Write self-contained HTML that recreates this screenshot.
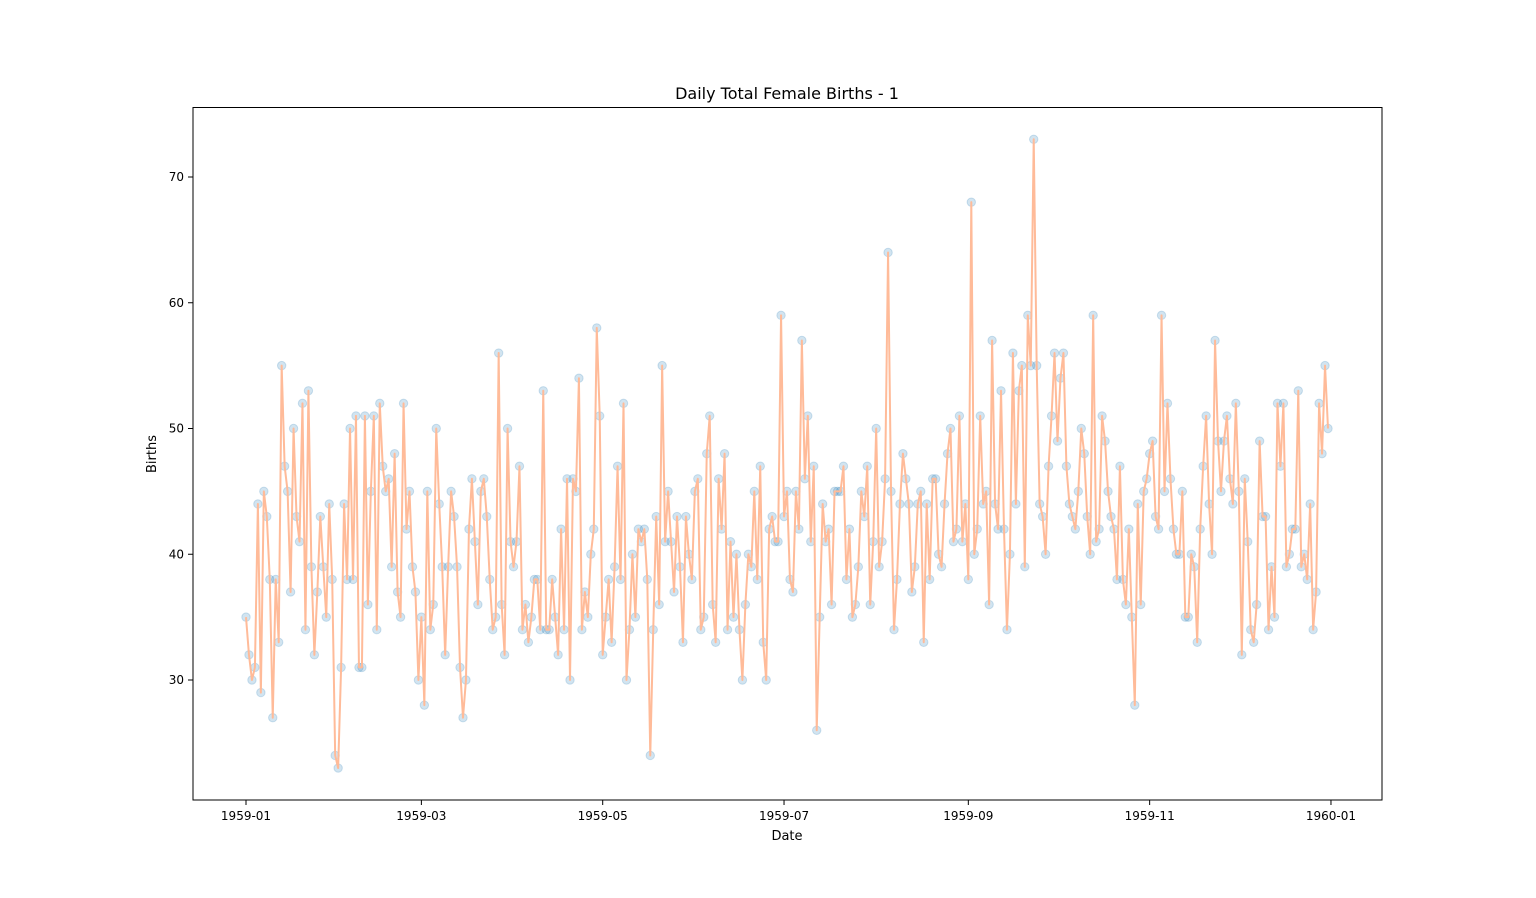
<!DOCTYPE html>
<html><head><meta charset="utf-8">
<style>
body{margin:0;background:#fff;}
svg{display:block;font-family:"DejaVu Sans","Liberation Sans",sans-serif;}
</style></head>
<body>
<svg id="chart" width="1536" height="898">
<text x="787" y="99" text-anchor="middle" font-size="16">Daily Total Female Births - 1</text>
<text x="787" y="840" text-anchor="middle" font-size="13">Date</text>
<text x="156" y="454" text-anchor="middle" font-size="13" transform="rotate(-90 156 454)">Births</text>
<g id="marks"></g>
<g id="axes"></g>
<rect x="193" y="107.5" width="1189" height="692.5" fill="none" stroke="#000" stroke-width="1"/>
</svg>
<script>
const births = [35,32,30,31,44,29,45,43,38,27,38,33,55,47,45,37,50,43,41,52,34,53,39,32,37,43,39,35,44,38,24,
23,31,44,38,50,38,51,31,31,51,36,45,51,34,52,47,45,46,39,48,37,35,52,42,45,39,37,30,
35,28,45,34,36,50,44,39,32,39,45,43,39,31,27,30,42,46,41,36,45,46,43,38,34,35,56,36,32,50,41,
39,41,47,34,36,33,35,38,38,34,53,34,34,38,35,32,42,34,46,30,46,45,54,34,37,35,40,42,58,51,
32,35,38,33,39,47,38,52,30,34,40,35,42,41,42,38,24,34,43,36,55,41,45,41,37,43,39,33,43,40,38,
45,46,34,35,48,51,36,33,46,42,48,34,41,35,40,34,30,36,40,39,45,38,47,33,30,42,43,41,41,59,
43,45,38,37,45,42,57,46,51,41,47,26,35,44,41,42,36,45,45,45,47,38,42,35,36,39,45,43,47,36,41,
50,39,41,46,64,45,34,38,44,48,46,44,37,39,44,45,33,44,38,46,46,40,39,44,48,50,41,42,51,41,44,
38,68,40,42,51,44,45,36,57,44,42,53,42,34,40,56,44,53,55,39,59,55,73,55,44,43,40,47,51,56,
49,54,56,47,44,43,42,45,50,48,43,40,59,41,42,51,49,45,43,42,38,47,38,36,42,35,28,44,36,45,46,
48,49,43,42,59,45,52,46,42,40,40,45,35,35,40,39,33,42,47,51,44,40,57,49,45,49,51,46,44,52,
45,32,46,41,34,33,36,49,43,43,34,39,35,52,47,52,39,40,42,42,53,39,40,38,44,34,37,52,48,55,50];
const xTickLabels = ["1959-01","1959-03","1959-05","1959-07","1959-09","1959-11","1960-01"];
const xTickDays = [0,59,120,181,243,304,365];
const yTicks = [30,40,50,60,70];

const NS="http://www.w3.org/2000/svg";
const X0=246, PER_DAY=(1328-246)/364;
const xScale = d => X0 + d*PER_DAY;
const yScale = v => 680 - (v-30)*(680-177)/40;
const marks=document.getElementById('marks'), axes=document.getElementById('axes');
function mk(tag, attrs, parent){const e=document.createElementNS(NS,tag);for(const k in attrs)e.setAttribute(k,attrs[k]);parent.appendChild(e);return e;}

births.forEach((v,i)=>{
  const c=mk('circle',{cx:xScale(i),cy:yScale(v),r:4.2,fill:'rgba(31,119,180,0.2)',stroke:'rgba(31,119,180,0.2)','stroke-width':1},marks);
  
  
});
const line=mk('polyline',{points:births.map((v,i)=>xScale(i)+','+yScale(v)).join(' '),fill:'none',stroke:'#ffbb99','stroke-width':2,'stroke-linejoin':'round'},marks);



xTickDays.forEach((d,i)=>{
  const x=xScale(d);
  mk('line',{x1:x,x2:x,y1:800,y2:805,stroke:'#000'},axes);
  const t=mk('text',{x:x,y:820,'text-anchor':'middle','font-size':12},axes);
  t.textContent=xTickLabels[i];
  
  
});
yTicks.forEach(v=>{
  const y=yScale(v);
  mk('line',{x1:188,x2:193,y1:y,y2:y,stroke:'#000'},axes);
  const t=mk('text',{x:184,y:y+4,'text-anchor':'end','font-size':12},axes);
  t.textContent=v;
  
  
});
</script>
</body></html>
